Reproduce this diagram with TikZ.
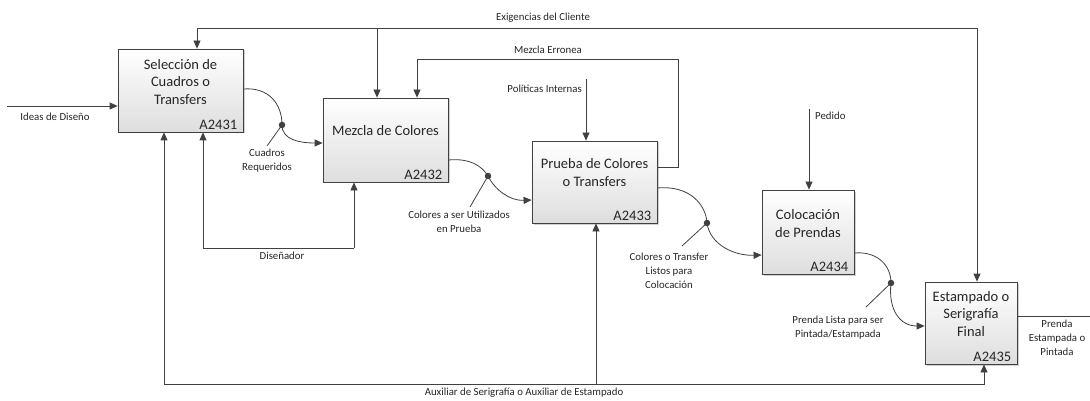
\documentclass[tikz,border=0pt]{standalone}
\usepackage{fontspec}
\setmainfont{Carlito}
\usetikzlibrary{arrows.meta,shadows}
\definecolor{lncol}{HTML}{404040}
\definecolor{txcol}{HTML}{262626}
\begin{document}
\begin{tikzpicture}[x=1pt,y=-1pt,
 box/.style={draw=lncol, line width=0.8pt, top color=white, bottom color=black!13,
   drop shadow={opacity=0.3,shadow xshift=1.5pt,shadow yshift=-1.5pt,fill=black!60}, inner sep=0pt},
 ttl/.style={align=center, font=\fontsize{14.5}{17.8}\selectfont, text=txcol, inner sep=0pt},
 cid/.style={anchor=south east, font=\fontsize{14.5}{16}\selectfont, text=txcol, inner sep=0pt},
 lbl/.style={align=center, font=\fontsize{10.8}{13.8}\selectfont, text=txcol, inner sep=0pt},
 arr/.style={draw=lncol, line width=0.8pt, -{Triangle[length=8pt,width=7pt]}},
 wire/.style={draw=lncol, line width=0.8pt},
 dotn/.style={circle, fill=lncol, inner sep=0pt, minimum size=6.5pt},
]
\useasboundingbox (0,0) rectangle (1090,401);

% boxes
\node[box, minimum width=125pt, minimum height=83pt] (b1) at (180.5,90.5) {};
\node[box, minimum width=125pt, minimum height=84pt] (b2) at (385.5,140) {};
\node[box, minimum width=125pt, minimum height=82pt] (b3) at (594.5,182) {};
\node[box, minimum width=92pt, minimum height=84pt] (b4) at (808,232) {};
\node[box, minimum width=92pt, minimum height=82pt] (b5) at (971,323) {};

\node[ttl] (t1) at ([yshift=8.5pt]b1.center) {Selección de\\Cuadros o\\Transfers};
\node[ttl] (t2) at ([yshift=9pt]b2.center) {Mezcla de Colores};
\node[ttl] (t3) at ([yshift=9.5pt]b3.center) {Prueba de Colores\\o Transfers};
\node[ttl] (t4) at ([yshift=8.5pt]b4.center) {Colocación\\de Prendas};
\node[ttl] (t5) at ([yshift=9pt]b5.center) {Estampado o\\Serigrafía\\Final};

\node[cid] (i1) at ([xshift=-6pt,yshift=3pt]b1.south east) {A2431};
\node[cid] (i2) at ([xshift=-6pt,yshift=3pt]b2.south east) {A2432};
\node[cid] (i3) at ([xshift=-6pt,yshift=3pt]b3.south east) {A2433};
\node[cid] (i4) at ([xshift=-6pt,yshift=3pt]b4.south east) {A2434};
\node[cid] (i5) at ([xshift=-6pt,yshift=3pt]b5.south east) {A2435};

% input: ideas
\coordinate (id0) at (7,106);
\draw[arr] (id0) -- (id0 -| b1.west);
\node[lbl] (lid) at (55,117) {Ideas de Diseño};

% control: exigencias del cliente
\coordinate (exL) at (197,28);
\coordinate (exM) at (377,28);
\coordinate (exR) at (977,28);
\draw[arr] (exR) -- (exL) -- (exL |- b1.north);
\draw[arr] (exM) -- (exM |- b2.north);
\draw[arr] (exR) -- (exR |- b5.north);
\node[lbl] (lex) at (543,18) {Exigencias del Cliente};

% feedback: mezcla erronea
\coordinate (me0) at ([yshift=15pt]b3.east);
\coordinate (me1) at (678,167);
\coordinate (me2) at (678,59);
\coordinate (me3) at (417,59);
\draw[arr] (me0) -- (me1) -- (me2) -- (me3) -- (me3 |- b2.north);
\node[lbl] (lme) at (548,50) {Mezcla Erronea};

% control: politicas internas
\coordinate (po0) at (586,79);
\draw[arr] (po0) -- (po0 |- b3.north);
\node[lbl, anchor=east] (lpo) at (582,89) {Políticas Internas};

% control: pedido
\coordinate (pe0) at (809,109);
\draw[arr] (pe0) -- (pe0 |- b4.north);
\node[lbl, anchor=west] (lpe) at (815,116) {Pedido};

% mechanism: disenador
\coordinate (dL) at (203,248);
\coordinate (dR) at (354,248);
\draw[arr] (dR) -- (dR |- b2.south);
\draw[arr] (dR) -- (dL) -- (dL |- b1.south);
\node[lbl] (ldi) at (282,256) {Diseñador};

% mechanism: auxiliar
\coordinate (aL) at (164,384);
\coordinate (aM) at (596,384);
\coordinate (aR) at (984,384);
\draw[arr] (aL) -- (aL |- b1.south);
\draw[arr] (aL) -- (aR) -- (aR |- b5.south);
\draw[arr] (aM) -- (aM |- b3.south);
\node[lbl] (lau) at (524,393) {Auxiliar de Serigrafía o Auxiliar de Estampado};

% curved flows
\node[dotn] (d1) at (282,125) {};
\draw[arr] ([yshift=1.5pt]b1.east) .. controls (268,87) and (282,103) .. (d1.center)
  .. controls (282,140) and (300,143) .. ([yshift=-3pt]b2.west);
\coordinate (k1) at (267,146);
\draw[wire] (d1.center) -- (k1);
\node[lbl] (l1) at (267,161) {Cuadros\\Requeridos};

\node[dotn] (d2) at (488,176) {};
\draw[arr] ([yshift=-20pt]b2.east) .. controls (470,158) and (482,166) .. (d2.center)
  .. controls (495,190) and (510,201) .. ([yshift=-18pt]b3.west);
\coordinate (k2) at (470,207);
\draw[wire] (d2.center) -- (k2);
\node[lbl] (l2) at (459,221.5) {Colores a ser Utilizados\\en Prueba};

\node[dotn] (d3) at (707,223) {};
\draw[arr] ([yshift=-6pt]b3.east) .. controls (690,185) and (706,205) .. (d3.center)
  .. controls (710,245) and (735,256) .. ([yshift=-23pt]b4.west);
\coordinate (k3) at (682,246);
\draw[wire] (d3.center) -- (k3);
\node[lbl] (l3) at (669,271) {Colores o Transfer\\Listos para\\Colocación};

\node[dotn] (d4) at (891,283) {};
\draw[arr] ([yshift=-21pt]b4.east) .. controls (878,251) and (891,266) .. (d4.center)
  .. controls (888,310) and (900,326) .. ([yshift=-3pt]b5.west);
\coordinate (k4) at (866,307);
\draw[wire] (d4.center) -- (k4);
\node[lbl] (l4) at (838,328) {Prenda Lista para ser\\Pintada/Estampada};

% output
\coordinate (out0) at (1090,316);
\draw[wire] ([yshift=7pt]b5.east) -- (out0);
\node[lbl] (lout) at (1057,337.5) {Prenda\\Estampada o\\Pintada};
\end{tikzpicture}
\end{document}
